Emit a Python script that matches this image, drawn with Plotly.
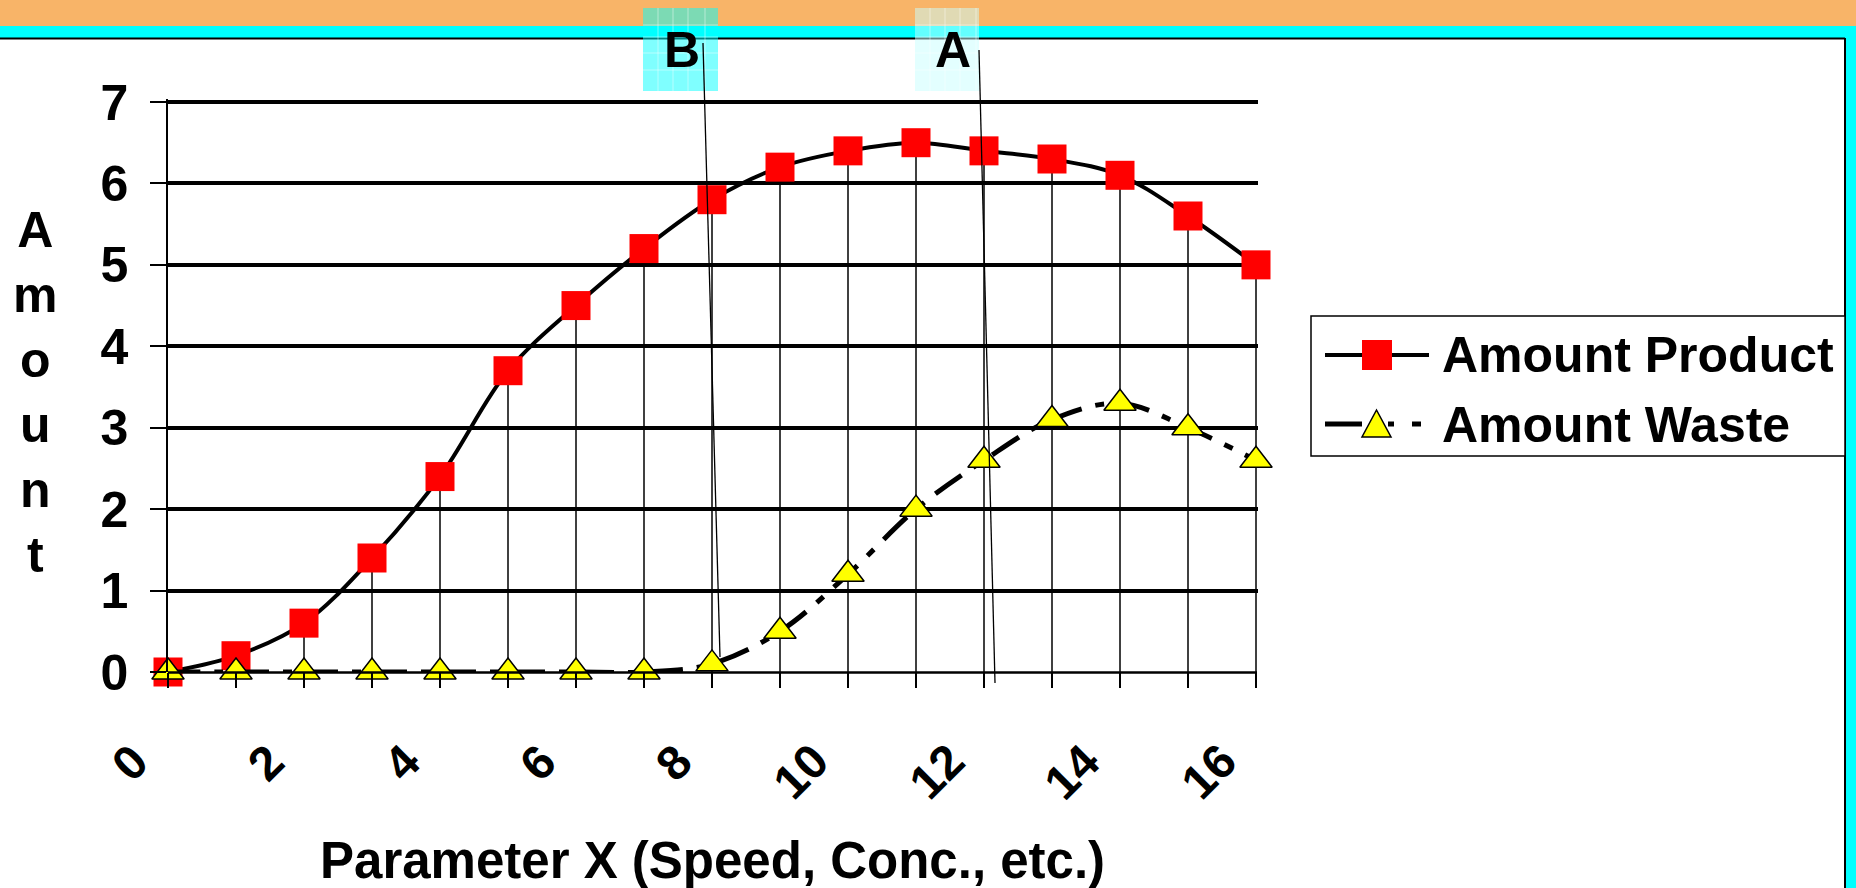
import plotly.graph_objects as go

# ---- data ----
x_vals = list(range(0, 17))
product = [0, 0.2, 0.6, 1.4, 2.4, 3.7, 4.5, 5.2, 5.8, 6.2, 6.4, 6.5, 6.4, 6.3, 6.1, 5.6, 5.0]
waste = [0, 0, 0, 0, 0, 0, 0, 0, 0.1, 0.5, 1.2, 2.0, 2.6, 3.1, 3.3, 3.0, 2.6]
x_tick_vals = [0, 2, 4, 6, 8, 10, 12, 14, 16]
y_tick_vals = [0, 1, 2, 3, 4, 5, 6, 7]
series_names = ["Amount Product", "Amount Waste"]
x_title = "Parameter X (Speed, Conc., etc.)"
y_title = "Amount"
marker_labels = ["B", "A"]

FONT = "Liberation Sans, Arial, sans-serif"
WIDTH, HEIGHT = 1856, 888
# pixel positions of the value range (x: 0..16, y: 0..7)
X0, X16, Y7, B = 168, 1256, 102, 672
L = X0
R = X16 + 2   # plot area a bit wider so the last drop line is not clipped
T = 99        # plot top a few px above the 7 gridline so that it is drawn fully
unit_x = (X16 - X0) / (x_vals[-1] - x_vals[0])
unit_y = (B - Y7) / (y_tick_vals[-1] - y_tick_vals[0])
x_right = x_vals[-1] + (R - X16) / unit_x
y_top = y_tick_vals[-1] + (Y7 - T) / unit_y
PW, PH = R - L, B - T


def px(x):
    return (x - L) / PW


def py(y):
    return (B - y) / PH


fig = go.Figure()

# drop lines from product markers to the axis
drop_x, drop_y = [], []
for xv, pv in zip(x_vals, product):
    drop_x += [xv, xv, None]
    drop_y += [pv, 0, None]
fig.add_trace(go.Scatter(x=drop_x, y=drop_y, mode="lines",
                         line=dict(color="black", width=1.5),
                         hoverinfo="skip", showlegend=False, cliponaxis=False))

fig.add_trace(go.Scatter(
    x=x_vals, y=product, name=series_names[0], mode="lines+markers",
    line=dict(color="black", width=4, shape="spline", smoothing=1.0),
    marker=dict(symbol="square", size=29, color="#FF0000", line=dict(width=0)),
    cliponaxis=False, showlegend=False))

fig.add_trace(go.Scatter(
    x=x_vals, y=waste, name=series_names[1], mode="lines+markers",
    line=dict(color="black", width=5, shape="spline", smoothing=1.0,
              dash="32px,14px,9px,14px"),
    marker=dict(symbol="triangle-up", size=28, color="#FFFF00",
                line=dict(width=1.5, color="black")),
    cliponaxis=False, showlegend=False))

shapes = []
# background bands and frame
shapes.append(dict(type="rect", xref="paper", yref="paper", x0=px(0), x1=px(WIDTH),
                   y0=py(0), y1=py(26), fillcolor="#F8B468", line=dict(width=0), layer="below"))
shapes.append(dict(type="rect", xref="paper", yref="paper", x0=px(0), x1=px(WIDTH),
                   y0=py(26), y1=py(38), fillcolor="#00FFFF", line=dict(width=0), layer="below"))
shapes.append(dict(type="rect", xref="paper", yref="paper", x0=px(1846), x1=px(WIDTH),
                   y0=py(26), y1=py(HEIGHT), fillcolor="#00FFFF", line=dict(width=0), layer="below"))
shapes.append(dict(type="line", xref="paper", yref="paper", x0=px(0), x1=px(1845),
                   y0=py(38.5), y1=py(38.5), line=dict(color="black", width=2)))
shapes.append(dict(type="line", xref="paper", yref="paper", x0=px(1845), x1=px(1845),
                   y0=py(38), y1=py(HEIGHT), line=dict(color="black", width=2)))

# label boxes B and A
box_specs = [(643, 718, "rgba(0,255,255,0.5)", [658, 673, 688, 705]),
             (915, 979, "rgba(200,255,255,0.5)", [930, 945, 960, 976])]
for x0, x1, col, vlines in box_specs:
    shapes.append(dict(type="rect", xref="paper", yref="paper", x0=px(x0), x1=px(x1),
                       y0=py(8), y1=py(91), fillcolor=col, line=dict(width=0)))
    for vx in vlines:
        shapes.append(dict(type="line", xref="paper", yref="paper", x0=px(vx), x1=px(vx),
                           y0=py(8), y1=py(91), line=dict(color="rgba(255,255,255,0.45)", width=1)))
    for hy in [25, 37, 53, 70]:
        shapes.append(dict(type="line", xref="paper", yref="paper", x0=px(x0), x1=px(x1),
                           y0=py(hy), y1=py(hy), line=dict(color="rgba(255,255,255,0.45)", width=1)))

# pointer lines
shapes.append(dict(type="line", xref="paper", yref="paper", x0=px(703), y0=py(43),
                   x1=px(720), y1=py(657), line=dict(color="black", width=1.3)))
shapes.append(dict(type="line", xref="paper", yref="paper", x0=px(979), y0=py(50),
                   x1=px(995), y1=py(683), line=dict(color="black", width=1.3)))

# legend (drawn by hand)
shapes.append(dict(type="rect", xref="paper", yref="paper", x0=px(1311), x1=px(1845),
                   y0=py(316), y1=py(456), fillcolor="white", line=dict(color="black", width=1.5)))
shapes.append(dict(type="line", xref="paper", yref="paper", x0=px(1325), x1=px(1429),
                   y0=py(355), y1=py(355), line=dict(color="black", width=4)))
shapes.append(dict(type="rect", xref="paper", yref="paper", x0=px(1362), x1=px(1392),
                   y0=py(340), y1=py(370), fillcolor="#FF0000", line=dict(width=0)))
for sx0, sx1 in [(1325, 1362), (1388, 1394), (1412, 1421)]:
    shapes.append(dict(type="line", xref="paper", yref="paper", x0=px(sx0), x1=px(sx1),
                       y0=py(424), y1=py(424), line=dict(color="black", width=5)))
tri = "M {:.5f},{:.5f} L {:.5f},{:.5f} L {:.5f},{:.5f} Z".format(
    px(1362), py(437), px(1391), py(437), px(1376.5), py(410))
shapes.append(dict(type="path", xref="paper", yref="paper", path=tri,
                   fillcolor="#FFFF00", line=dict(color="black", width=1.5)))

annotations = []
for lab, cx in zip(marker_labels, [682, 953]):
    annotations.append(dict(text="<b>%s</b>" % lab, xref="paper", yref="paper",
                            x=px(cx), y=py(50), xanchor="center", yanchor="middle",
                            showarrow=False, font=dict(family=FONT, size=50, color="black")))
annotations.append(dict(text="<b>%s</b>" % series_names[0], xref="paper", yref="paper",
                        x=px(1440), y=py(355), xanchor="left", yanchor="middle",
                        showarrow=False, font=dict(family=FONT, size=50, color="black")))
annotations.append(dict(text="<b>%s</b>" % series_names[1], xref="paper", yref="paper",
                        x=px(1440), y=py(425), xanchor="left", yanchor="middle",
                        showarrow=False, font=dict(family=FONT, size=50, color="black")))
annotations.append(dict(text="<b>%s</b>" % x_title, xref="paper", yref="paper",
                        x=px(712), y=py(860), xanchor="center", yanchor="middle",
                        showarrow=False, font=dict(family=FONT, size=51, color="black")))
annotations.append(dict(text="<b>" + "<br>".join(list(y_title)) + "</b>", xref="paper", yref="paper",
                        x=px(35), y=py(392), xanchor="center", yanchor="middle",
                        showarrow=False, font=dict(family=FONT, size=50, color="black")))
# rotated x tick labels
for v in x_tick_vals:
    annotations.append(dict(text="<b>%d</b>" % v, xref="x", yref="paper",
                            x=v, y=py(731), xanchor="right", yanchor="top", xshift=-7,
                            textangle=-45, showarrow=False,
                            font=dict(family=FONT, size=48, color="black")))

fig.update_layout(
    width=WIDTH, height=HEIGHT,
    margin=dict(l=L, r=WIDTH - R, t=T, b=HEIGHT - B, pad=0),
    paper_bgcolor="white", plot_bgcolor="white",
    showlegend=False,
    shapes=shapes, annotations=annotations,
    font=dict(family=FONT, color="black"),
    xaxis=dict(range=[x_vals[0], x_right], tickmode="array", tickvals=x_tick_vals,
               showticklabels=False,
               ticks="outside", ticklen=15, tickwidth=1.5, tickcolor="black",
               minor=dict(dtick=1, ticks="outside", ticklen=15, tickwidth=1.5, tickcolor="black",
                          showgrid=False),
               showgrid=False, zeroline=False, showline=False),
    yaxis=dict(range=[y_tick_vals[0], y_top], tickmode="array", tickvals=y_tick_vals,
               ticktext=["<b>%d</b>" % v for v in y_tick_vals],
               ticks="outside", ticklen=16, tickwidth=1.5, tickcolor="black",
               showgrid=True, gridcolor="black", gridwidth=3.5, zeroline=False,
               showline=True, linecolor="black", linewidth=1.5,
               tickfont=dict(family=FONT, size=50, color="black"), ticklabelstandoff=12),
)

# x axis baseline from 0 to 16 only
shapes.append(dict(type="line", xref="paper", yref="paper", x0=px(X0), x1=px(X16 + 1),
                   y0=py(B + 0.5), y1=py(B + 0.5), line=dict(color="black", width=2.5)))
fig.update_layout(shapes=shapes)

fig.write_html("out.html", post_script="document.body.style.margin='0';",
               config={"displayModeBar": False})
